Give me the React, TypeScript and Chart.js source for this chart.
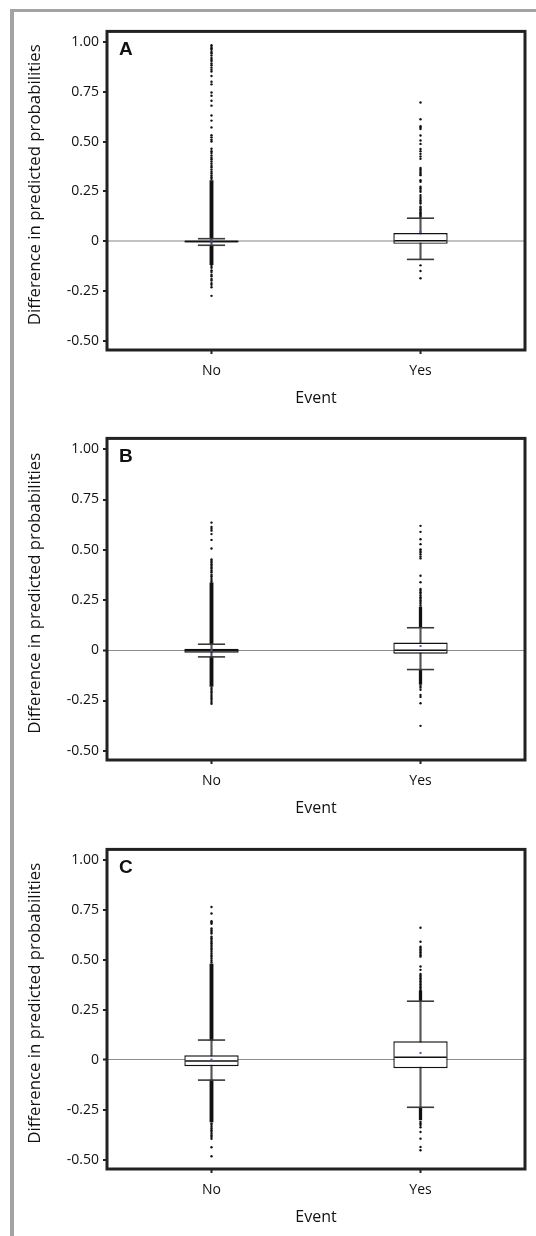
import React, { useEffect, useRef } from 'react';
import { Chart, registerables } from 'chart.js';

Chart.register(...registerables);

// ---------- shared ----------
const categories = ['No', 'Yes'];
const panelLetters = ['A', 'B', 'C'];
const yTickValues = [-0.5, -0.25, 0, 0.25, 0.5, 0.75, 1.0];
const yAxisTitle = 'Difference in predicted probabilities';
const xAxisTitle = 'Event';

// ---------- panel A ----------
const aWhiskerLow = [-0.02, -0.091];
const aQ1 = [-0.006, -0.013];
const aMedian = [-0.001, 0.003];
const aQ3 = [0.004, 0.041];
const aWhiskerHigh = [0.013, 0.116];
const aMean = [0.002, 0.047];
const aUpperDense = [[0.013, 0.305], null];
const aLowerDense = [[-0.118, -0.02], null];
const aNoOutliers = [0.985, 0.976, 0.969, 0.962, 0.951, 0.944, 0.933, 0.921, 0.912, 0.905, 0.893, 0.884, 0.872, 0.861, 0.852, 0.83, 0.801, 0.788, 0.747, 0.731, 0.706, 0.681, 0.632, 0.606, 0.572, 0.533, 0.522, 0.51, 0.501, 0.465, 0.452, 0.443, 0.431, 0.42, 0.412, 0.401, 0.389, 0.378, 0.371, 0.36, 0.349, 0.341, 0.33, 0.322, 0.313, -0.124, -0.133, -0.146, -0.154, -0.168, -0.176, -0.189, -0.197, -0.21, -0.218, -0.231, -0.274];
const aYesOutliers = [0.697, 0.613, 0.578, 0.571, 0.564, 0.531, 0.506, 0.489, 0.464, 0.452, 0.439, 0.426, 0.414, 0.368, 0.361, 0.353, 0.345, 0.338, 0.332, 0.307, 0.299, 0.274, 0.266, 0.257, 0.249, 0.232, 0.222, 0.213, 0.205, 0.197, 0.19, 0.174, 0.167, 0.16, 0.153, 0.146, 0.14, 0.134, 0.128, 0.122, -0.121, -0.149, -0.186];

// ---------- panel B ----------
const bWhiskerLow = [-0.033, -0.096];
const bQ1 = [-0.012, -0.017];
const bMedian = [0.0, 0.0];
const bQ3 = [0.008, 0.038];
const bWhiskerHigh = [0.03, 0.112];
const bMean = [0.0, 0.021];
const bUpperDense = [[0.03, 0.335], [0.112, 0.215]];
const bLowerDense = [[-0.18, -0.033], [-0.17, -0.096]];
const bNoOutliers = [0.635, 0.613, 0.604, 0.595, 0.578, 0.549, 0.506, 0.452, 0.444, 0.437, 0.428, 0.42, 0.412, 0.405, 0.396, 0.388, 0.376, 0.368, 0.359, 0.35, 0.341, -0.188, -0.196, -0.205, -0.213, -0.222, -0.231, -0.24, -0.248, -0.257, -0.266];
const bYesOutliers = [0.619, 0.589, 0.552, 0.528, 0.502, 0.494, 0.486, 0.477, 0.466, 0.457, 0.371, 0.338, 0.305, 0.297, 0.289, 0.281, 0.272, 0.264, 0.256, 0.248, 0.24, 0.231, 0.222, -0.178, -0.186, -0.197, -0.222, -0.232, -0.264, -0.376];

// ---------- panel C ----------
const cWhiskerLow = [-0.101, -0.237];
const cQ1 = [-0.031, -0.041];
const cMedian = [-0.005, 0.013];
const cQ3 = [0.023, 0.093];
const cWhiskerHigh = [0.0995, 0.294];
const cMean = [0.002, 0.035];
const cUpperDense = [[0.0995, 0.48], [0.294, 0.345]];
const cLowerDense = [[-0.31, -0.101], [-0.3, -0.237]];
const cNoOutliers = [0.766, 0.733, 0.694, 0.688, 0.682, 0.658, 0.649, 0.641, 0.633, 0.617, 0.609, 0.601, 0.592, 0.584, 0.576, 0.567, 0.558, 0.55, 0.541, 0.532, 0.523, 0.515, 0.506, 0.497, 0.488, -0.318, -0.326, -0.335, -0.343, -0.352, -0.36, -0.369, -0.378, -0.386, -0.395, -0.437, -0.482];
const cYesOutliers = [0.662, 0.592, 0.567, 0.561, 0.553, 0.546, 0.539, 0.531, 0.524, 0.517, 0.468, 0.451, 0.43, 0.423, 0.416, 0.409, 0.401, 0.394, 0.386, 0.379, 0.371, 0.364, 0.356, 0.349, -0.31, -0.318, -0.326, -0.337, -0.361, -0.394, -0.436, -0.452];

type PanelData = {
  letter: string;
  wLow: number[]; q1: number[]; median: number[]; q3: number[]; wHigh: number[]; mean: number[];
  upperDense: (number[] | null)[]; lowerDense: (number[] | null)[];
  noOut: number[]; yesOut: number[];
};

const panels: PanelData[] = [
  { letter: panelLetters[0], wLow: aWhiskerLow, q1: aQ1, median: aMedian, q3: aQ3, wHigh: aWhiskerHigh, mean: aMean, upperDense: aUpperDense, lowerDense: aLowerDense, noOut: aNoOutliers, yesOut: aYesOutliers },
  { letter: panelLetters[1], wLow: bWhiskerLow, q1: bQ1, median: bMedian, q3: bQ3, wHigh: bWhiskerHigh, mean: bMean, upperDense: bUpperDense, lowerDense: bLowerDense, noOut: bNoOutliers, yesOut: bYesOutliers },
  { letter: panelLetters[2], wLow: cWhiskerLow, q1: cQ1, median: cMedian, q3: cQ3, wHigh: cWhiskerHigh, mean: cMean, upperDense: cUpperDense, lowerDense: cLowerDense, noOut: cNoOutliers, yesOut: cYesOutliers },
];

// ---------- layout / style (not data) ----------
const layouts = [
  { top: 19, plotHeight: 321, boxFill: ['#ffffff', '#ffffff'], zeroColor: '#c2c2c2', zeroWidth: 2 },
  { top: 426, plotHeight: 324, boxFill: ['#6a6a6a', '#ffffff'], zeroColor: '#8c8c8c', zeroWidth: 1 },
  { top: 837, plotHeight: 322, boxFill: ['#ffffff', '#ffffff'], zeroColor: '#8c8c8c', zeroWidth: 1 },
];
const Y_MIN = -0.546;
const Y_MAX = 1.054;
const PAD_TOP = 10;
const X_AXIS_H = 62;
const Y_AXIS_W = 93;
const FONT = '"Open Sans", "DejaVu Sans", sans-serif';

const decorPlugin = {
  id: 'boxDecor',
  afterDatasetsDraw(chart: any, _args: any, opts: any) {
    const p: PanelData = opts.panel;
    if (!p) return;
    const { ctx, scales } = chart;
    const x = scales.x;
    const y = scales.y;
    const boxMeta = chart.getDatasetMeta(0);
    ctx.save();
    categories.forEach((_, i) => {
      const el = boxMeta.data[i];
      const cx = x.getPixelForValue(i);
      const w = el ? el.width : 54;
      // caps
      ctx.strokeStyle = '#3a3a3a';
      ctx.lineWidth = 1.6;
      [p.wHigh[i], p.wLow[i]].forEach((v) => {
        const py = y.getPixelForValue(v);
        ctx.beginPath();
        ctx.moveTo(cx - w / 4, py);
        ctx.lineTo(cx + w / 4, py);
        ctx.stroke();
      });
      // median
      const my = y.getPixelForValue(p.median[i]);
      ctx.strokeStyle = '#111';
      ctx.lineWidth = 1.5;
      ctx.beginPath();
      ctx.moveTo(cx - w / 2 + 1, my);
      ctx.lineTo(cx + w / 2 - 1, my);
      ctx.stroke();
      // mean
      const mny = y.getPixelForValue(p.mean[i]);
      ctx.fillStyle = '#3f5fc0';
      ctx.fillRect(cx - 1, mny - 1, 2, 2);
    });
    ctx.restore();
  },
  afterDraw(chart: any, _args: any, opts: any) {
    const p: PanelData = opts.panel;
    if (!p) return;
    const { ctx, chartArea } = chart;
    ctx.save();
    // frame
    ctx.strokeStyle = '#222';
    ctx.lineWidth = 3;
    ctx.strokeRect(chartArea.left, chartArea.top, chartArea.right - chartArea.left, chartArea.bottom - chartArea.top);
    // panel letter
    ctx.fillStyle = '#111';
    ctx.font = 'bold 19px "Liberation Sans", Arial, sans-serif';
    ctx.textAlign = 'left';
    ctx.textBaseline = 'alphabetic';
    ctx.fillText(p.letter, chartArea.left + 12, chartArea.top + 23.5);
    // y axis title
    ctx.translate(21.5, (chartArea.top + chartArea.bottom) / 2 - 6);
    ctx.rotate(-Math.PI / 2);
    ctx.font = '16.8px ' + FONT;
    ctx.textAlign = 'center';
    ctx.textBaseline = 'middle';
    ctx.fillText(yAxisTitle, 0, 0);
    ctx.restore();
  },
};

function Panel({ index }: { index: number }) {
  const ref = useRef<HTMLCanvasElement | null>(null);
  const p = panels[index];
  const L = layouts[index];
  useEffect(() => {
    if (!ref.current) return;
    const points = [
      ...p.noOut.map((v) => ({ x: categories[0], y: v })),
      ...p.yesOut.map((v) => ({ x: categories[1], y: v })),
    ];
    const onlyNo = (arr: (number[] | null)[]) => [arr[0], null];
    const onlyYes = (arr: (number[] | null)[]) => [null, arr[1]];
    const band = (label: string, data: any, thickness: number) => ({
      type: 'bar',
      label,
      data,
      backgroundColor: '#111',
      barThickness: thickness,
      grouped: false,
      order: 3,
    } as any);
    const chart = new Chart(ref.current, {
      type: 'bar',
      data: {
        labels: categories,
        datasets: [
          {
            type: 'bar',
            label: 'box',
            data: categories.map((_, i) => [p.q1[i], p.q3[i]]),
            backgroundColor: L.boxFill,
            borderColor: '#111',
            borderWidth: 1.4,
            borderSkipped: false,
            barPercentage: 0.26,
            categoryPercentage: 1,
            grouped: false,
            order: 1,
          } as any,
          {
            type: 'line',
            label: 'outliers',
            data: points,
            showLine: false,
            pointRadius: 1.2,
            pointBackgroundColor: '#111',
            pointBorderWidth: 0,
            order: 2,
          } as any,
          band('dense upper No', onlyNo(p.upperDense), 3.2),
          band('dense lower No', onlyNo(p.lowerDense), 3.2),
          band('dense upper Yes', onlyYes(p.upperDense), 2.6),
          band('dense lower Yes', onlyYes(p.lowerDense), 2.6),
          {
            type: 'bar',
            label: 'whisker',
            data: categories.map((_, i) => [p.wLow[i], p.wHigh[i]]),
            backgroundColor: '#555',
            barThickness: 1.5,
            grouped: false,
            order: 4,
          } as any,
        ],
      },
      options: {
        animation: false,
        responsive: true,
        maintainAspectRatio: false,
        layout: { padding: { top: PAD_TOP, right: 11, left: 0, bottom: 0 } },
        plugins: {
          legend: { display: false },
          tooltip: { enabled: false },
          boxDecor: { panel: p },
        } as any,
        scales: {
          x: {
            type: 'category',
            labels: categories,
            offset: true,
            grid: { offset: false, drawOnChartArea: false, drawTicks: true, tickLength: 4, tickColor: '#222', tickWidth: 2, color: '#222' },
            border: { display: false },
            ticks: { padding: 8.5, color: '#111', font: { family: FONT, size: 14 }, maxRotation: 0 },
            title: { display: true, text: xAxisTitle, color: '#111', font: { family: FONT, size: 16 }, padding: { top: 0, bottom: 4 } },
            afterFit: (s: any) => { s.height = X_AXIS_H; },
          } as any,
          y: {
            type: 'linear',
            min: Y_MIN,
            max: Y_MAX,
            afterBuildTicks: (s: any) => { s.ticks = yTickValues.map((v) => ({ value: v })); },
            ticks: {
              padding: 4,
              color: '#111',
              font: { family: FONT, size: 14 },
              callback: (v: any) => (Number(v) === 0 ? '0' : Number(v).toFixed(2)),
            },
            grid: {
              drawOnChartArea: true,
              drawTicks: true,
              tickLength: 4,
              tickWidth: 2,
              tickColor: '#222',
              color: (c: any) => (c.tick && c.tick.value === 0 ? L.zeroColor : 'rgba(0,0,0,0)'),
              lineWidth: (c: any) => (c.tick && c.tick.value === 0 ? L.zeroWidth : 0),
            },
            border: { display: false },
            afterFit: (s: any) => { s.width = Y_AXIS_W; },
          } as any,
        },
      },
      plugins: [decorPlugin],
    });
    return () => chart.destroy();
  }, [index]);
  return (
    <div
      style={{
        position: 'absolute',
        left: 14,
        top: L.top,
        width: 522,
        height: PAD_TOP + L.plotHeight + X_AXIS_H,
      }}
    >
      <canvas ref={ref} />
    </div>
  );
}

export default function App() {
  return (
    <div style={{ position: 'absolute', left: 0, top: 0, width: 536, height: 1236, overflow: 'hidden', background: '#fff' }}>
      <div
        style={{
          position: 'absolute',
          left: 10,
          top: 9,
          width: 526,
          height: 1227,
          boxSizing: 'border-box',
          borderTop: '3px solid #a3a3a3',
          borderLeft: '4px solid #a3a3a3',
        }}
      />
      {panels.map((_, i) => (
        <Panel key={i} index={i} />
      ))}
    </div>
  );
}
